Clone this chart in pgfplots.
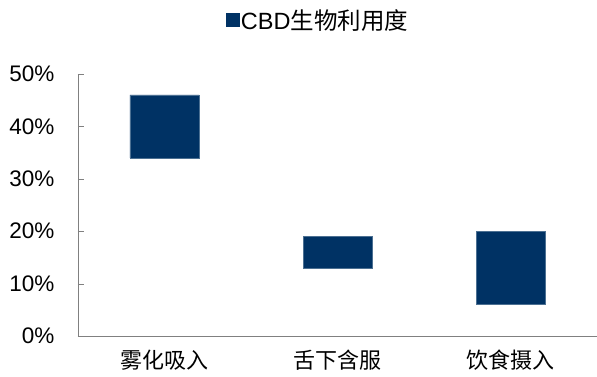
\documentclass[border=0pt]{standalone}
\usepackage{fontspec}
\setmainfont{Liberation Sans}
\newfontfamily\cjk{Noto Sans CJK SC}
\usepackage{pgfplots}
\pgfplotsset{compat=1.18}
\definecolor{navy}{RGB}{0,50,100}
\definecolor{axgray}{RGB}{128,128,128}
\begin{document}
\begin{tikzpicture}
\useasboundingbox (-78pt,-40pt) rectangle (519pt,336pt);
\begin{axis}[
  scale only axis,
  width=519pt, height=262pt,
  at={(0,0)}, anchor=south west,
  ybar stacked,
  bar width=69pt,
  xmin=-0.5, xmax=2.5,
  ymin=0, ymax=50,
  axis x line=bottom, axis y line=left,
  axis line style={draw=axgray, -},
  xtick={0,1,2},
  xticklabels={{\cjk 雾化吸入},{\cjk 舌下含服},{\cjk 饮食摄入}},
  xtick style={draw=none},
  xticklabel style={font=\fontsize{22}{22}\selectfont, yshift=-10pt},
  ytick={0,10,20,30,40,50},
  yticklabels={0\%,10\%,20\%,30\%,40\%,50\%},
  yticklabel style={font=\fontsize{22.5}{22.5}\selectfont, xshift=-20pt},
  ytick style={draw=axgray},
  tick align=inside,
  major tick length=6pt,
  legend style={draw=none, fill=none, at={(0.462,1.206)}, anchor=center,
    font=\fontsize{23.5}{23.5}\selectfont},
  legend image code/.code={\fill[navy] (-4pt,-6.5pt) rectangle (9pt,6.5pt);},
]
\addplot[draw=none, fill=none, forget plot] coordinates {(0,34) (1,13) (2,6)};
\addplot[fill=navy, draw=navy!70!white, line width=0.4pt] coordinates {(0,12) (1,6) (2,14)};
\addlegendentry{CBD{\cjk 生物利用度}}
\end{axis}
\end{tikzpicture}
\end{document}
